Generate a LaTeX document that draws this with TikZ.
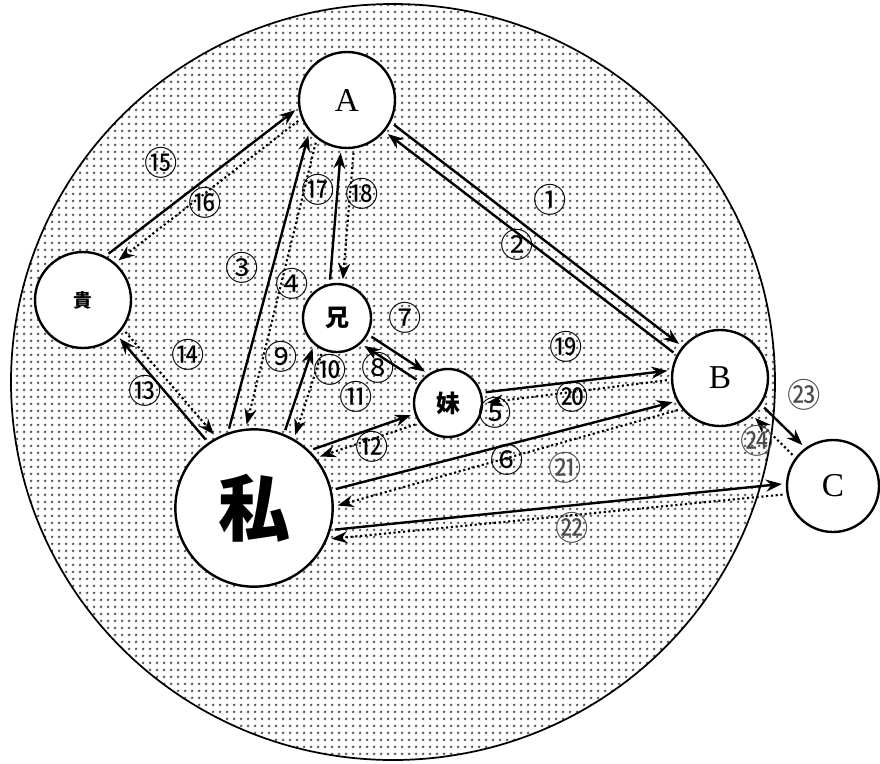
\documentclass[tikz,border=0pt]{standalone}
\usepackage{fontspec}
\newfontfamily\cjk{Noto Sans CJK JP}
\newfontfamily\letterfont{Liberation Serif}
\usetikzlibrary{arrows.meta,patterns.meta}
\tikzdeclarepattern{
  name=halftone,
  type=colored,
  bounding box={(0pt,0pt) and (5.25pt,5.25pt)},
  tile size={(5.25pt,5.25pt)},
  code={
    \fill[gray!50] (2.625pt,2.625pt) circle (1.45pt);
    \fill[black!85] (2.625pt,2.625pt) circle (0.8pt);
  }
}
\begin{document}
\begin{tikzpicture}[x=0.75pt,y=-0.75pt,
  every node/.style={inner sep=0pt},
  person/.style={circle,draw,line width=1.8pt,fill=white},
  pbig/.style={person,minimum size=118pt},
  pmid/.style={person,minimum size=72pt},
  psmall/.style={person,minimum size=51pt},
  letter/.style={font=\letterfont\fontsize{25}{25}\selectfont},
  num/.style={font=\cjk\fontsize{25}{25}\selectfont},
  numb/.style={num,text=black!70},
  sol/.style={line width=1.8pt,-{Stealth[length=12pt,width=9pt,inset=4pt]},shorten <=3pt,shorten >=3pt},
  dotarrow/.style={sol,line width=1.6pt,dash pattern=on 1.6pt off 2pt},
]
\useasboundingbox (0,0) rectangle (880,763);
\fill[white] (393,382) ellipse [x radius=382, y radius=378];
\fill[pattern=halftone] (393,382) ellipse [x radius=382, y radius=378];
\draw[line width=1.3pt] (393,382) ellipse [x radius=382, y radius=378];

\node[pmid,letter] (A) at (347,100) {A};
\node[pmid] (K) at (83,300) {\cjk\bfseries\fontsize{14}{14}\selectfont 貴};
\node[psmall] (Ani) at (337,318) {\cjk\bfseries\fontsize{18}{18}\selectfont 兄};
\node[psmall] (Imo) at (448,403) {\cjk\bfseries\fontsize{18}{18}\selectfont 妹};
\node[pbig] (W) at (254,508) {\cjk\bfseries\fontsize{54}{54}\selectfont 私};
\node[pmid,letter] (B) at (720,378) {B};
\node[pmid,letter,minimum size=69pt] (C) at (833,486) {C};

\draw[sol] (A.-27.5) -- (B.140.7);
\draw[sol] (B.152) -- (A.-40.8);
\draw[sol] (W.109.4) -- (A.220.5);
\draw[dotarrow] (A.-128.8) -- (W.96.2);
\draw[dotarrow] (B.182.3) -- (Imo.0);
\draw[sol] (Imo.17) -- (B.171);
\draw[sol] (W.13.9) -- (B.208);
\draw[dotarrow] (B.219.4) -- (W.1.4);
\draw[sol] (Ani.-28.5) -- (Imo.124);
\draw[sol] (Imo.143.4) -- (Ani.-47);
\draw[sol] (W.68.3) -- (Ani.229.8);
\draw[dotarrow] (Ani.246) -- (W.60.2);
\draw[sol] (W.46) -- (Imo.198.4);
\draw[dotarrow] (Imo.215.4) -- (W.39.6);
\draw[sol] (W.125.8) -- (K.-46.5);
\draw[dotarrow] (K.-36.9) -- (W.118.9);
\draw[sol] (K.63) -- (A.189);
\draw[dotarrow] (A.202) -- (K.49.4);
\draw[sol] (Ani.102) -- (A.-97.8);
\draw[dotarrow] (A.-82.2) -- (Ani.81);
\draw[sol] (W.-16.5) -- (C.177);
\draw[dotarrow] (C.190.6) -- (W.-23.7);
\draw[sol] (B.-33.7) -- (C.126);
\draw[dotarrow] (C.143) -- (B.-49.8);

\node[num] (l1) at (550,200) {①};
\node[num] (l2) at (517,245) {②};
\node[num] (l3) at (242,268) {③};
\node[num] (l4) at (292,284) {④};
\node[num] (l5) at (495,413) {⑤};
\node[num] (l6) at (507,460) {⑥};
\node[num] (l7) at (405,318) {⑦};
\node[num] (l8) at (378,368) {⑧};
\node[num] (l9) at (281,357) {⑨};
\node[num] (l10) at (330,370) {⑩};
\node[num] (l11) at (356,397) {⑪};
\node[num] (l12) at (372,447) {⑫};
\node[num] (l13) at (145,391) {⑬};
\node[num] (l14) at (188,355) {⑭};
\node[num] (l15) at (161,163) {⑮};
\node[num] (l16) at (205,203) {⑯};
\node[num] (l17) at (318,190) {⑰};
\node[num] (l18) at (362,194) {⑱};
\node[num] (l19) at (566,347) {⑲};
\node[num] (l20) at (572,397) {⑳};
\node[numb] (l21) at (565,468) {㉑};
\node[numb] (l22) at (572,528) {㉒};
\node[numb] (l23) at (804,395) {㉓};
\node[numb] (l24) at (757,441) {㉔};
\end{tikzpicture}
\end{document}
